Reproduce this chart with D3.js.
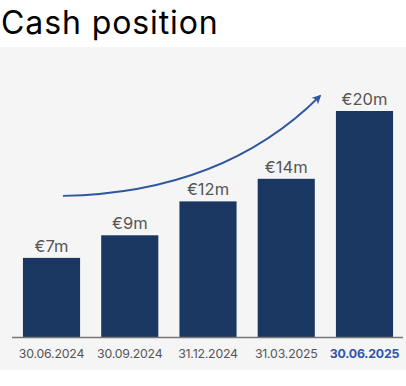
<!DOCTYPE html>
<html>
<head>
<meta charset="utf-8">
<script src="https://cdn.jsdelivr.net/npm/d3@7"></script>
<style>
  body { margin: 0; background: #fff; }
  text { font-family: Inter, "Open Sans", sans-serif; }
</style>
</head>
<body>
<svg id="chart" width="406" height="386"></svg>
<script>
// chart data
const dates = ['30.06.2024', '30.09.2024', '31.12.2024', '31.03.2025', '30.06.2025'];
const cash = [7, 9, 12, 14, 20];
const cashLabels = ['€7m', '€9m', '€12m', '€14m', '€20m'];

const svg = d3.select('#chart');
const W = 406, H = 386;
const base = 337;

// panel background
svg.append('rect')
  .attr('x', 0).attr('y', 47)
  .attr('width', W).attr('height', 323)
  .attr('fill', '#f5f5f5');

svg.append('text')
  .attr('x', 1).attr('y', 34)
  .attr('font-size', 32)
  .attr('letter-spacing', 0.9)
  .attr('fill', '#000')
  .text('Cash position');

const x = d3.scaleBand()
  .domain(dates)
  .range([12, 404])
  .paddingInner(0.27)
  .paddingOuter(0.14);

const y = d3.scaleLinear()
  .domain([0, 20])
  .range([base, 111]);

svg.selectAll('rect.bar')
  .data(cash)
  .enter().append('rect')
  .attr('class', 'bar')
  .attr('x', (d, i) => x(dates[i]))
  .attr('y', d => y(d))
  .attr('width', x.bandwidth())
  .attr('height', d => base - y(d))
  .attr('fill', '#1a3761');

// value labels
svg.selectAll('text.val')
  .data(cash)
  .enter().append('text')
  .attr('class', 'val')
  .attr('x', (d, i) => x(dates[i]) + x.bandwidth() / 2)
  .attr('y', d => y(d) - 6)
  .attr('text-anchor', 'middle')
  .attr('font-size', 16.5)
  .attr('fill', '#555')
  .text((d, i) => cashLabels[i]);

// baseline
svg.append('line')
  .attr('x1', 12).attr('x2', 403)
  .attr('y1', base + 0.5).attr('y2', base + 0.5)
  .attr('stroke', '#777').attr('stroke-width', 1.5);

// date labels
svg.selectAll('text.date')
  .data(dates)
  .enter().append('text')
  .attr('class', 'date')
  .attr('x', d => x(d) + x.bandwidth() / 2)
  .attr('y', 358)
  .attr('text-anchor', 'middle')
  .attr('font-size', 12.3)
  .attr('letter-spacing', -0.2)
  .attr('font-weight', (d, i) => i === dates.length - 1 ? 700 : 400)
  .attr('fill', (d, i) => i === dates.length - 1 ? '#2f56a8' : '#555')
  .text(d => d);

// growth arrow, placed relative to the bars
const defs = svg.append('defs');
defs.append('marker')
  .attr('id', 'head')
  .attr('viewBox', '0 0 10 10')
  .attr('refX', 8).attr('refY', 5)
  .attr('markerWidth', 5).attr('markerHeight', 5)
  .attr('orient', 'auto')
  .append('path')
  .attr('d', 'M0,0 L10,5 L0,10 L2.5,5 Z')
  .attr('fill', '#2f56a0');

const x0 = x(dates[0]) + x.bandwidth() * 0.7;
const y0 = y(cash[0]) - 62;
const x1 = x(dates[4]) - 16;
const y1 = y(cash[4]) - 15;
const path = d3.path();
path.moveTo(x0, y0);
path.quadraticCurveTo(x0 + 160, y0 - 3, x1, y1);

svg.append('path')
  .attr('d', path.toString())
  .attr('fill', 'none')
  .attr('stroke', '#2f56a0')
  .attr('stroke-width', 1.8)
  .attr('marker-end', 'url(#head)');
</script>
</body>
</html>
